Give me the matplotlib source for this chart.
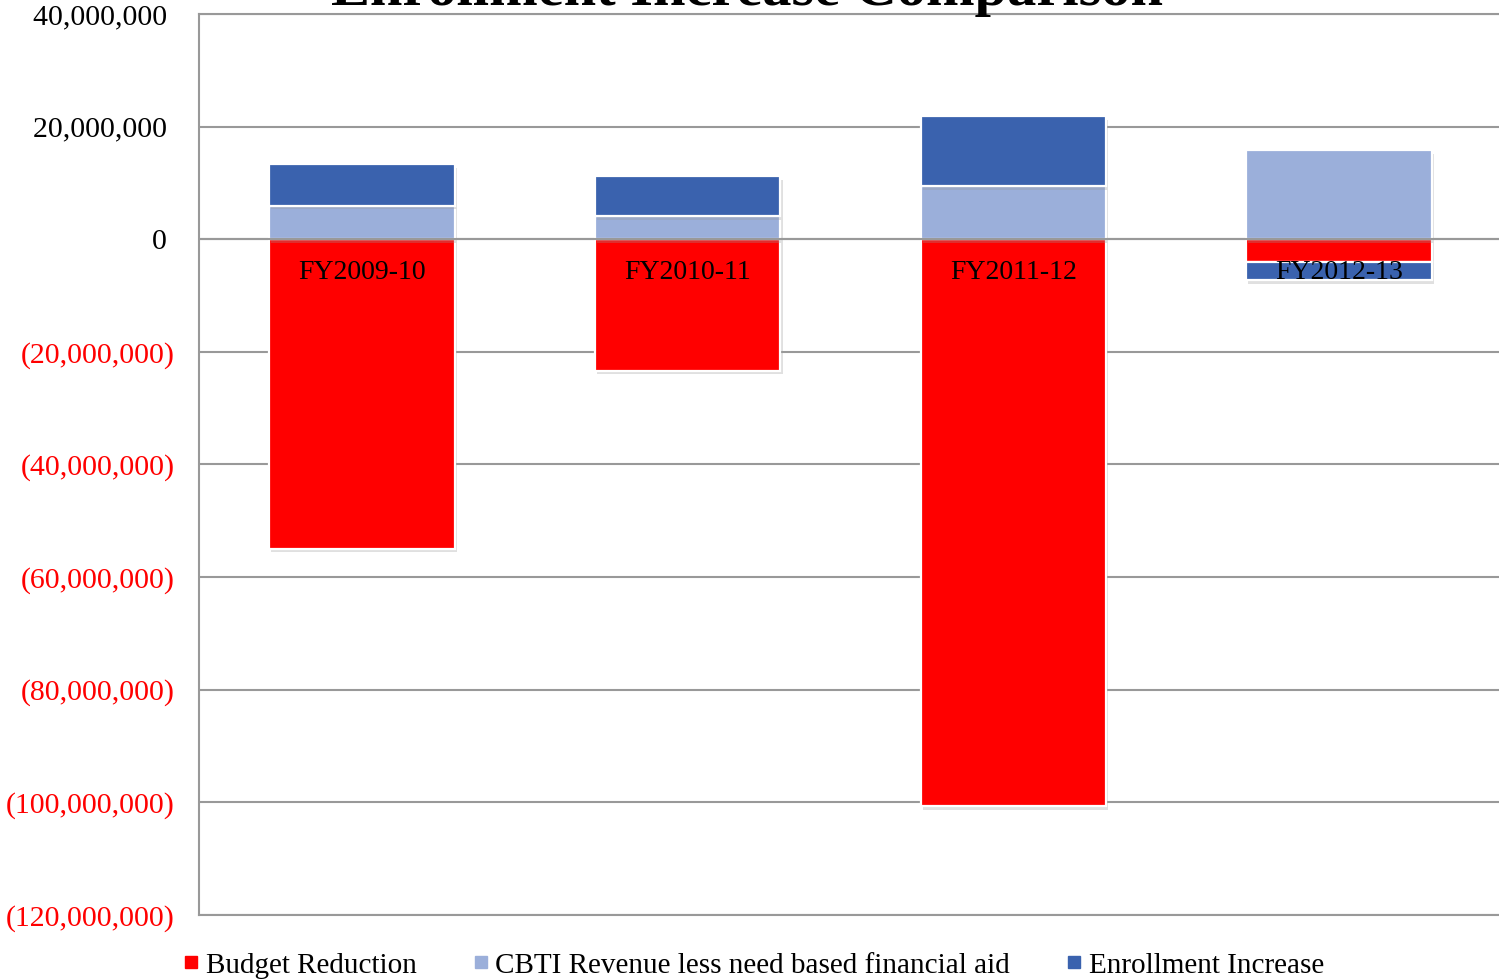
import matplotlib
matplotlib.use("Agg")
import matplotlib.pyplot as plt
import matplotlib.patheffects as pe
from matplotlib.lines import Line2D
import numpy as np

plt.rcParams["font.family"] = ["Liberation Serif", "DejaVu Serif"]

# values in millions of dollars
years      = ["FY2009-10", "FY2010-11", "FY2011-12", "FY2012-13"]
budget_red = [-55.0, -23.4, -100.7, -4.1]
cbti_rev   = [5.9, 4.1, 9.4, 15.8]
enroll_inc = [7.4, 7.1, 12.4, -3.2]

series = [
    ("Budget Reduction", budget_red, "#FF0000"),
    ("CBTI Revenue less need based financial aid", cbti_rev, "#9BAFDA"),
    ("Enrollment Increase", enroll_inc, "#3A62AE"),
]

yticks = np.arange(-120, 41, 20)

fig = plt.figure(figsize=(14.99, 9.8), dpi=100)
ax = fig.add_axes([199 / 1499, 65 / 980, 1.0 - 199 / 1499 + 0.002, (915 - 14) / 980])

x = np.arange(len(years))
pos_bottom = np.zeros(len(years))
neg_bottom = np.zeros(len(years))
shadow = [pe.SimplePatchShadow(offset=(1.5, -2.5), shadow_rgbFace="#999999", alpha=0.3), pe.Normal()]

for name, vals, color in series:
    vals = np.array(vals)
    bottoms = np.where(vals >= 0, pos_bottom, neg_bottom)
    bars = ax.bar(x, vals, width=0.57, bottom=bottoms, color=color, edgecolor="white",
                  linewidth=1.6, zorder=3, label=name)
    for b in bars:
        b.set_path_effects(shadow)
    pos_bottom = pos_bottom + np.where(vals >= 0, vals, 0)
    neg_bottom = neg_bottom + np.where(vals < 0, vals, 0)

ax.set_xlim(-0.5, 3.5)
ax.set_ylim(-120, 40)
ax.set_yticks(yticks)


def fmt(v):
    if v < 0:
        return f"({abs(v) * 1_000_000:,.0f})"
    if v == 0:
        return "0 "
    return f"{v * 1_000_000:,.0f} "


ax.set_yticklabels([fmt(v) for v in yticks], fontsize=21.5)
for lab, v in zip(ax.get_yticklabels(), yticks):
    lab.set_color("#FF0000" if v < 0 else "black")
ax.tick_params(axis="y", length=0, pad=17.5)
ax.set_xticks([])

ax.grid(axis="y", color="#999999", linewidth=1.5, zorder=0)
ax.axhline(0, color="#999999", linewidth=1.5, zorder=4)
for s in ["top", "left", "bottom"]:
    ax.spines[s].set_color("#999999")
    ax.spines[s].set_linewidth(1.5)
ax.spines["right"].set_visible(False)

for xi, lab in zip(x, years):
    ax.text(xi, -5.9, lab, ha="center", va="center", fontsize=20, color="black", zorder=5)

# title sits mostly above the canvas, as in the original
fig.text(0.498, 1 - 5 / 980, "Enrollment Increase Comparison", ha="center", va="baseline",
         fontsize=42, fontweight="bold")

handles = [Line2D([], [], marker="s", linestyle="none", markersize=8, color=c) for _, _, c in series]
fig.legend(handles, [n for n, _, _ in series], loc="center", bbox_to_anchor=(0.502, 0.015),
           ncol=3, frameon=False, fontsize=21, handletextpad=0.15, columnspacing=1.85,
           handlelength=0.7)

fig.savefig("out.png", dpi=100)
